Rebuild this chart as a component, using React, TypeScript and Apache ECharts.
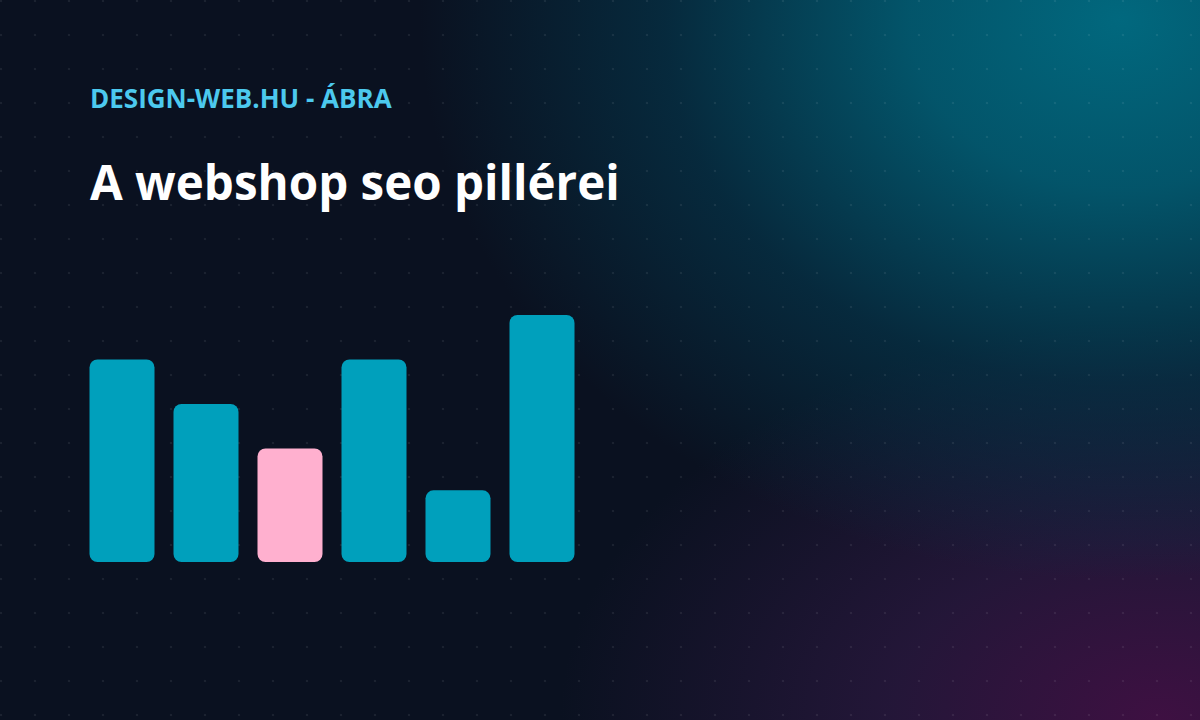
import React, { useEffect, useRef } from 'react'
import * as echarts from 'echarts'

const categories = ['1', '2', '3', '4', '5', '6']
const values = [82, 64, 46, 82, 29, 100]
const highlight = [false, false, true, false, false, false]

const kicker = 'DESIGN-WEB.HU - ÁBRA'
const heading = 'A webshop seo pillérei'

const TEAL = '#00a0bc'
const PINK = '#ffb0cf'

export default function App(): JSX.Element {
  const ref = useRef<HTMLDivElement>(null)

  useEffect(() => {
    if (!ref.current) return
    const chart = echarts.init(ref.current, undefined, { renderer: 'svg' })
    chart.setOption({
      animation: false,
      backgroundColor: 'transparent',
      grid: { left: 80, width: 504, top: 315, height: 247 },
      xAxis: { type: 'category', data: categories, show: false },
      yAxis: { type: 'value', min: 0, max: 100, show: false },
      series: [{
        type: 'bar',
        barWidth: 65,
        data: values.map((v, i) => ({
          value: v,
          itemStyle: { color: highlight[i] ? PINK : TEAL, borderRadius: 8 },
        })),
      }],
      graphic: [
        { type: 'text', left: 90, top: 85, style: { text: kicker, fill: '#4cc9ee', font: '700 26px "Open Sans", sans-serif' } },
        { type: 'text', left: 90, top: 157, style: { text: heading, fill: '#ffffff', font: '700 47.5px "Open Sans", sans-serif' } },
      ],
    })
    return () => { chart.dispose() }
  }, [])

  return (
    <div style={{
      position: 'fixed', left: 0, top: 0, width: 1200, height: 720,
      backgroundColor: '#0a1120',
      backgroundImage: [
        'radial-gradient(circle, rgba(255,255,255,0.07) 1px, transparent 1.6px)',
        'radial-gradient(ellipse 700px 560px at 1120px 20px, rgba(1,104,126,1) 0%, rgba(2,92,114,0.9) 30%, rgba(4,58,80,0.6) 65%, rgba(10,17,32,0) 100%)',
        'radial-gradient(ellipse 600px 400px at 1160px 720px, rgba(62,16,66,1) 0%, rgba(44,24,64,0.75) 45%, rgba(10,17,32,0) 100%)',
      ].join(','),
      backgroundSize: '34px 34px, 100% 100%, 100% 100%',
      backgroundPosition: '-16px -16px, 0 0, 0 0',
    }}>
      <div ref={ref} style={{ width: 1200, height: 720 }} />
    </div>
  )
}
